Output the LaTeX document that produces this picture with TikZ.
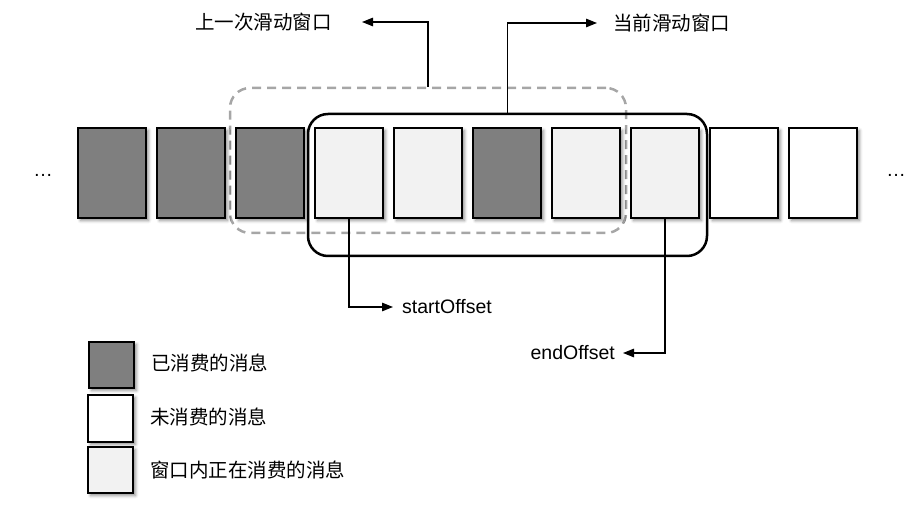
\documentclass[tikz,border=0pt]{standalone}
\usepackage{fontspec}
\setmainfont{Liberation Sans}
\newfontfamily\cjk{Noto Sans CJK SC}
\usetikzlibrary{positioning, arrows.meta, shadows.blur}
\tikzset{>={Triangle[length=11pt,width=8.5pt]}}
\definecolor{donegray}{HTML}{7F7F7F}
\definecolor{busygray}{HTML}{F2F2F2}
\definecolor{dashgray}{HTML}{A6A6A6}

\begin{document}
\begin{tikzpicture}[x=1pt,y=-1pt,
  msg/.style={draw=black,line width=1.1pt,inner sep=0pt,
    minimum width=68pt,minimum height=90pt,
    blur shadow={shadow xshift=2.5pt,shadow yshift=-2.5pt,
      shadow blur radius=3pt,shadow opacity=45}},
  done/.style={msg,fill=donegray},
  todo/.style={msg,fill=white},
  busy/.style={msg,fill=busygray},
  key/.style={msg,minimum width=45pt,minimum height=46pt},
  cn/.style={font=\cjk\fontsize{19.5}{22}\selectfont,inner sep=0pt},
  en/.style={font=\fontsize{19.5}{22}\selectfont,inner sep=0pt},
  pointer/.style={->,line width=1.2pt}]
\useasboundingbox (0,0) rectangle (919,510);
% windows
\node[draw=dashgray,line width=2.5pt,dash pattern=on 9pt off 6pt,
  rounded corners=20pt,minimum width=396pt,minimum height=145pt]
  (lastwin) at (428,160.5) {};
\node[draw=black,line width=2.5pt,rounded corners=20pt,
  minimum width=399pt,minimum height=142pt] (curwin) at (507.5,185) {};
% messages
\node[done] (m1) at (112,173) {};
\node[done] (m2) at (191,173) {};
\node[done] (m3) at (270,173) {};
\node[busy] (m4) at (349,173) {};
\node[busy] (m5) at (428,173) {};
\node[done] (m6) at (507,173) {};
\node[busy] (m7) at (586,173) {};
\node[busy] (m8) at (665,173) {};
\node[todo] (m9) at (744,173) {};
\node[todo] (m10) at (823,173) {};
\node[en,anchor=base] (leftdots) at (43,177) {…};
\node[en,anchor=base] (rightdots) at (896,177) {…};
% labels
\node[cn,anchor=east] (lastlbl) at (332,22) {上一次滑动窗口};
\node[cn,anchor=west] (curlbl) at (613,23) {当前滑动窗口};
\node[en,anchor=west] (startoff) at (402,307) {startOffset};
\node[en,anchor=east] (endoff) at (615,353) {endOffset};
\draw[pointer] (lastwin.north) |- ([xshift=30pt]lastlbl.east);
\draw[pointer] (curwin.north) |- ([xshift=-16pt]curlbl.west);
\draw[pointer] (m4.south) |- ([xshift=-9pt]startoff.west);
\draw[pointer] (m8.south) |- ([xshift=8pt]endoff.east);
% legend
\node[key,fill=donegray] (key1) at (111.5,365) {};
\node[key,fill=white,minimum height=47pt] (key2) at (110.5,418.5) {};
\node[key,fill=busygray] (key3) at (110.5,470) {};
\node[cn,anchor=west] (keytxt1) at (151,363) {已消费的消息};
\node[cn,anchor=west] (keytxt2) at (150,417) {未消费的消息};
\node[cn,anchor=west] (keytxt3) at (150,470) {窗口内正在消费的消息};
\end{tikzpicture}
\end{document}
